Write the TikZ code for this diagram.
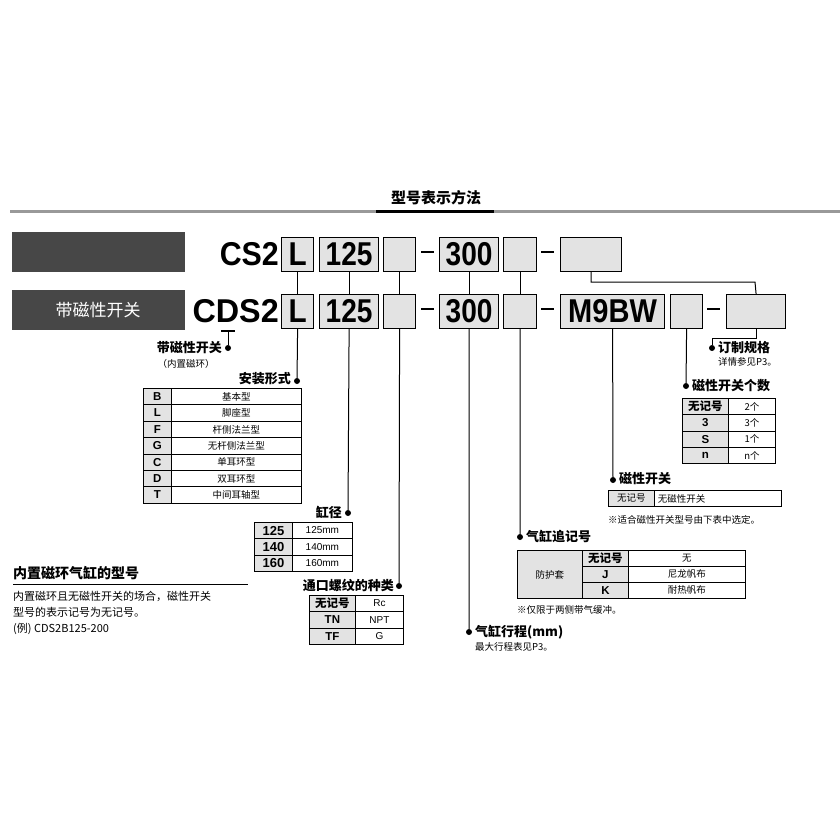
\documentclass[tikz,border=0pt]{standalone}
\usepackage{fontspec}
\setmainfont{Liberation Sans}
\newfontfamily\cjk{Noto Sans CJK SC}
\begin{document}
\begin{tikzpicture}[x=1pt,y=-1pt,
  code/.style={draw,line width=1.2pt,fill=gray!22,minimum height=34pt,inner sep=0pt,font=\fontsize{33}{33}\selectfont\bfseries,anchor=north west},
  big/.style={font=\fontsize{33}{33}\selectfont\bfseries,inner sep=0pt},
  cell/.style={draw,line width=0.8pt,inner sep=0pt,anchor=north west},
  gcell/.style={cell,fill=gray!22},
  cn/.style={font=\cjk\fontsize{13}{13}\selectfont\bfseries,inner sep=0pt},
  sm/.style={font=\cjk\fontsize{9.5}{10}\selectfont,inner sep=0pt},
  tb/.style={font=\fontsize{11.5}{12}\selectfont\bfseries,inner sep=0pt},
  ln/.style={line width=1pt},
  dsh/.style={line width=2pt},
  dot/.style={circle,fill,inner sep=0pt,minimum size=6pt}]
\useasboundingbox (0,0) rectangle (840,840);
\fill[white] (0,0) rectangle (840,840);
% title
\node[font=\cjk\fontsize{15}{15}\selectfont\bfseries] (title) at (436,198) {型号表示方法};
\draw[gray!80,line width=3pt] (10,211) -- (840,211);
\draw[black,line width=3pt] (376,211) -- (494,211);
% dark boxes
\fill[black!72] (12,232) rectangle (185,272);
\fill[black!72] (12,290) rectangle (185,330);
\node[cn,white,font=\cjk\fontsize{17}{17}\selectfont] at (98,310) {带磁性开关};
% row 1
\node[big,anchor=east,xscale=0.92] (cs2) at (279,254) {CS2};
\node[code,minimum width=32pt] (aL) at (281,237) {\scalebox{0.9}[1]{L}};
\node[code,minimum width=59pt] (a125) at (319,237) {\scalebox{0.85}[1]{125}};
\node[code,minimum width=32pt] (ae1) at (383,237) {};
\draw[dsh] (421,252) -- (434,252);
\node[code,minimum width=59pt] (a300) at (439,237) {\scalebox{0.85}[1]{300}};
\node[code,minimum width=33pt] (ae2) at (503,237) {};
\draw[dsh] (541,252) -- (554,252);
\node[code,minimum width=61pt] (ae3) at (560,237) {};
% row 2
\node[big,anchor=east,xscale=0.98] (cds2) at (279,311) {CDS2};
\node[code,minimum width=32pt] (bL) at (281,294) {\scalebox{0.9}[1]{L}};
\node[code,minimum width=59pt] (b125) at (319,294) {\scalebox{0.85}[1]{125}};
\node[code,minimum width=32pt] (be1) at (383,294) {};
\draw[dsh] (421,309) -- (434,309);
\node[code,minimum width=59pt] (b300) at (439,294) {\scalebox{0.85}[1]{300}};
\node[code,minimum width=33pt] (be2) at (503,294) {};
\draw[dsh] (541,309) -- (554,309);
\node[code,minimum width=104pt] (bm9) at (560,294) {\scalebox{0.88}[1]{M9BW}};
\node[code,minimum width=32pt] (be3) at (670,294) {};
\draw[dsh] (707,309) -- (720,309);
\node[code,minimum width=59pt] (be4) at (726,294) {};
% row links
\foreach \a/\b in {aL/bL,a125/b125,ae1/be1,a300/b300,ae2/be2} \draw[ln] (\a.south) -- (\b.north);
\draw[ln] (ae3.south) |- (755,282) -- (be4.north);
\draw[line width=2pt] (221,331) -- (235,331);
% callouts
\node[dot] (d1) at (228,348) {}; \draw[ln] (228,331) -- (d1);
\node[cn,anchor=east] at (222,348) {带磁性开关};
\node[sm] at (186,364) {（内置磁环）};
\node[dot] (d2) at (297,381) {}; \draw[ln] (bL.south) -- (d2);
\node[cn,anchor=east] at (291,379) {安装形式};
\node[dot] (d3) at (348,513) {}; \draw[ln] (b125.south) -- (d3);
\node[cn,anchor=east] at (342,512) {缸径};
\node[dot] (d4) at (399,586) {}; \draw[ln] (be1.south) -- (d4);
\node[cn,anchor=east] at (394,585) {通口螺纹的种类};
\node[dot] (d5) at (469,632) {}; \draw[ln] (b300.south) -- (d5);
\node[cn,anchor=west] at (475,632) {气缸行程(mm)};
\node[sm,anchor=west] at (475,647) {最大行程表见P3。};
\node[dot] (d6) at (520,537) {}; \draw[ln] (be2.south) -- (d6);
\node[cn,anchor=west] at (526,536) {气缸追记号};
\node[dot] (d7) at (613,480) {}; \draw[ln] (bm9.south) -- (d7);
\node[cn,anchor=west] at (619,479) {磁性开关};
\node[dot] (d8) at (686,386) {}; \draw[ln] (be3.south) -- (d8);
\node[cn,anchor=west] at (692,386) {磁性开关个数};
\node[dot] (d9) at (712,348) {}; \draw[ln] (be4.south) |- (712,338) -- (d9);
\node[cn,anchor=west] at (718,348) {订制规格};
\node[sm,anchor=west] at (718,362) {详情参见P3。};
% table mount
\foreach \k/\t [count=\i from 0] in {B/基本型,L/脚座型,F/杆侧法兰型,G/无杆侧法兰型,C/单耳环型,D/双耳环型,T/中间耳轴型}{
  \node[gcell,minimum width=28pt,minimum height=16.4pt,tb] at (143,388+16.4*\i) {\k};
  \node[cell,minimum width=130pt,minimum height=16.4pt,sm] at (171,388+16.4*\i) {\t};}
% bore
\foreach \k [count=\i from 0] in {125,140,160}{
  \node[gcell,minimum width=38pt,minimum height=16.3pt,tb,font=\fontsize{13}{13}\selectfont\bfseries] at (254,522+16.3*\i) {\k};
  \node[cell,minimum width=60pt,minimum height=16.3pt,font=\fontsize{10}{10}\selectfont] at (292,522+16.3*\i) {\k mm};}
% port
\foreach \k/\t [count=\i from 0] in {{\cjk 无记号}/Rc,TN/NPT,TF/G}{
  \node[gcell,minimum width=46pt,minimum height=16.3pt,tb] at (309,595+16.3*\i) {\k};
  \node[cell,minimum width=48pt,minimum height=16.3pt,font=\fontsize{10}{10}\selectfont] at (355,595+16.3*\i) {\t};}
% suffix
\node[gcell,minimum width=65pt,minimum height=48pt,sm] at (517,550) {防护套};
\foreach \k/\t [count=\i from 0] in {{\cjk 无记号}/无,J/尼龙帆布,K/耐热帆布}{
  \node[gcell,minimum width=46pt,minimum height=16pt,tb] at (582,550+16*\i) {\k};
  \node[cell,minimum width=117pt,minimum height=16pt,sm] at (628,550+16*\i) {\t};}
\node[sm,anchor=west] at (517,610) {※仅限于两侧带气缓冲。};
% switch
\node[gcell,minimum width=46pt,minimum height=16pt,sm] at (608,490) {无记号};
\node[cell,minimum width=127pt,minimum height=16pt,sm,text width=120pt,align=left] at (654,490) {无磁性开关};
\node[sm,anchor=west] at (608,520) {※适合磁性开关型号由下表中选定。};
% count
\foreach \k/\t [count=\i from 0] in {{\cjk 无记号}/2个,3/3个,S/1个,n/n个}{
  \node[gcell,minimum width=46pt,minimum height=16.3pt,tb] at (682,398+16.3*\i) {\k};
  \node[cell,minimum width=47pt,minimum height=16.3pt,sm] at (728,398+16.3*\i) {\t};}
% left note
\node[cn,anchor=west,font=\cjk\fontsize{14}{14}\selectfont\bfseries] at (13,573) {内置磁环气缸的型号};
\draw[line width=1pt] (13,584) -- (248,584);
\node[sm,anchor=west,font=\cjk\fontsize{11}{11}\selectfont] at (13,596) {内置磁环且无磁性开关的场合，磁性开关};
\node[sm,anchor=west,font=\cjk\fontsize{11}{11}\selectfont] at (13,612) {型号的表示记号为无记号。};
\node[sm,anchor=west,font=\cjk\fontsize{11}{11}\selectfont] at (13,629) {(例) CDS2B125-200};
\end{tikzpicture}
\end{document}
